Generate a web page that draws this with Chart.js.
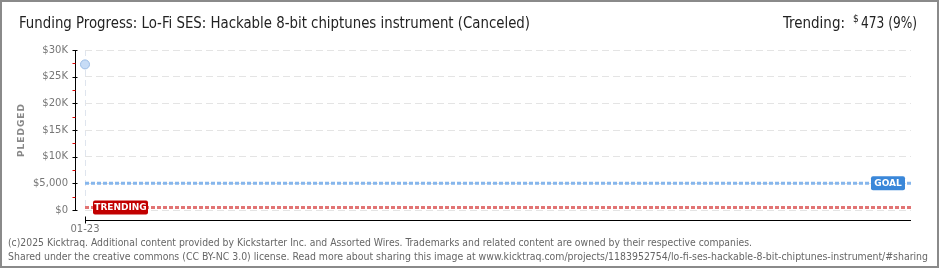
<!DOCTYPE html>
<html>
<head>
<meta charset="utf-8">
<script src="https://cdn.jsdelivr.net/npm/chart.js@4.4.1/dist/chart.umd.min.js"></script>
<style>
  html, body { margin: 0; padding: 0; background: #fff; }
  canvas { display: block; }
</style>
</head>
<body>
<canvas id="fundingChart" width="940" height="270"></canvas>
<script>
// chart values
const dayLabels = ["01-23"];
const pledgedDays = [0];
const pledgedValues = [27300];
const goalValue = 5000;
const trendingValue = 473;
const trendingPct = 9;
const campaignDays = 30;
const yTicks = [0, 5000, 10000, 15000, 20000, 25000, 30000];

const titleText = "Funding Progress: Lo-Fi SES: Hackable 8-bit chiptunes instrument (Canceled)";
const footerLines = [
  "(c)2025 Kicktraq. Additional content provided by Kickstarter Inc. and Assorted Wires. Trademarks and related content are owned by their respective companies.",
  "Shared under the creative commons (CC BY-NC 3.0) license. Read more about sharing this image at www.kicktraq.com/projects/1183952754/lo-fi-ses-hackable-8-bit-chiptunes-instrument/#sharing"
];

function fmtMoney(v) {
  if (v === 0) return "$0";
  if (v === goalValue) return "$5,000";
  return "$" + v / 1000 + "K";
}

// draw text squeezed/stretched to a given width
function fitText(ctx, text, x, y, w) {
  const m = ctx.measureText(text).width;
  ctx.save();
  ctx.translate(x, y);
  ctx.scale(w / m, 1);
  ctx.fillText(text, 0, 0);
  ctx.restore();
}

function drawTag(ctx, text, x, y, w, h, bg) {
  ctx.fillStyle = bg;
  ctx.beginPath();
  ctx.roundRect(x, y, w, h, 2);
  ctx.fill();
  ctx.fillStyle = "#fff";
  ctx.font = "bold 9px 'DejaVu Sans'";
  ctx.textAlign = "center";
  ctx.textBaseline = "middle";
  ctx.fillText(text, x + w / 2, y + h / 2 + 0.5);
}

const decorations = {
  id: "decorations",
  beforeDraw(chart) {
    const ctx = chart.ctx;
    ctx.save();
    ctx.fillStyle = "#fff";
    ctx.fillRect(0, 0, chart.width, chart.height);
    ctx.restore();
  },
  afterDatasetsDraw(chart) {
    const ctx = chart.ctx;
    const xs = chart.scales.x;
    const ys = chart.scales.y;
    const area = chart.chartArea;
    ctx.save();

    // y axis with offset
    const ax = Math.round(area.left) - 10 + 0.5;
    ctx.strokeStyle = "#000";
    ctx.lineWidth = 1;
    ctx.beginPath();
    ctx.moveTo(ax, ys.getPixelForValue(30000));
    ctx.lineTo(ax, ys.getPixelForValue(0) + 1);
    ctx.stroke();
    yTicks.forEach(v => {
      const py = Math.round(ys.getPixelForValue(v)) + 0.5;
      ctx.strokeStyle = "#000";
      ctx.beginPath();
      ctx.moveTo(ax - 3, py);
      ctx.lineTo(ax + 2, py);
      ctx.stroke();
      if (v < 30000) {
        const my = Math.round(ys.getPixelForValue(v + 2500)) + 0.5;
        ctx.strokeStyle = "#e00000";
        ctx.beginPath();
        ctx.moveTo(ax - 3, my);
        ctx.lineTo(ax, my);
        ctx.stroke();
      }
    });

    // x axis with offset
    const by = Math.round(ys.getPixelForValue(0)) + 10 + 0.5;
    ctx.strokeStyle = "#000";
    ctx.beginPath();
    ctx.moveTo(area.left, by);
    ctx.lineTo(area.right, by);
    ctx.stroke();
    const tx = Math.round(xs.getPixelForValue(0)) + 0.5;
    ctx.beginPath();
    ctx.moveTo(tx, by - 4);
    ctx.lineTo(tx, by + 3);
    ctx.stroke();

    // tags
    drawTag(ctx, "TRENDING", area.left + 8, ys.getPixelForValue(trendingValue) - 7, 55, 14, "#c20000");
    drawTag(ctx, "GOAL", area.right - 40, ys.getPixelForValue(goalValue) - 7, 34, 14, "#3a87d9");

    // PLEDGED label
    ctx.save();
    ctx.translate(22, (area.top + area.bottom) / 2);
    ctx.rotate(-Math.PI / 2);
    ctx.fillStyle = "#888";
    ctx.font = "bold 9px 'DejaVu Sans'";
    ctx.textAlign = "center";
    ctx.textBaseline = "middle";
    ctx.letterSpacing = "1px";
    ctx.fillText("PLEDGED", 0, 0);
    ctx.restore();

    // titles
    ctx.fillStyle = "#222";
    ctx.textBaseline = "alphabetic";
    ctx.textAlign = "left";
    ctx.font = "16px 'DejaVu Sans Condensed'";
    fitText(ctx, titleText, 19, 28, 511);

    const num = trendingValue + " (" + trendingPct + "%)";
    fitText(ctx, num, 861, 28, 56);
    fitText(ctx, "Trending:", 783, 28, 62);
    ctx.font = "10px 'DejaVu Sans Condensed'";
    ctx.fillText("$", 853, 22);

    // footer
    ctx.fillStyle = "#666";
    ctx.font = "10px 'DejaVu Sans Condensed'";
    fitText(ctx, footerLines[0], 8, 246, 744);
    fitText(ctx, footerLines[1], 8, 260, 920);

    // frame
    ctx.strokeStyle = "#8a8a8a";
    ctx.lineWidth = 2;
    ctx.strokeRect(1, 1, 937, 266);
    ctx.restore();
  }
};

new Chart(document.getElementById("fundingChart"), {
  type: "line",
  data: {
    datasets: [
      {
        label: "Pledged",
        data: pledgedDays.map((d, i) => ({ x: d, y: pledgedValues[i] })),
        showLine: false,
        clip: false,
        pointRadius: 4.5,
        pointBackgroundColor: "#c7dcf6",
        pointBorderColor: "#9cbde6",
        pointBorderWidth: 1
      },
      {
        label: "Goal",
        data: [{ x: 0, y: goalValue }, { x: campaignDays, y: goalValue }],
        borderColor: "#86b6ec",
        borderWidth: 3,
        borderDash: [4, 2],
        pointRadius: 0
      },
      {
        label: "Trending",
        data: [{ x: 0, y: trendingValue }, { x: campaignDays, y: trendingValue }],
        borderColor: "#e27474",
        borderWidth: 3,
        borderDash: [4, 2],
        pointRadius: 0
      }
    ]
  },
  options: {
    responsive: false,
    animation: false,
    devicePixelRatio: 1,
    layout: { padding: { top: 50, right: 29, bottom: 0, left: 0 } },
    plugins: {
      legend: { display: false },
      tooltip: { enabled: false }
    },
    scales: {
      x: {
        type: "linear",
        min: 0,
        max: campaignDays,
        afterBuildTicks: (scale) => { scale.ticks = pledgedDays.map(v => ({ value: v })); },
        afterFit: (scale) => { scale.height = 60; },
        ticks: {
          callback: (v) => dayLabels[pledgedDays.indexOf(v)] || "",
          color: "#777",
          font: { family: "DejaVu Sans", size: 10 },
          padding: 13,
          maxRotation: 0
        },
        grid: { color: "#dfe5ee", drawTicks: false },
        border: { display: false, dash: [6, 4] }
      },
      y: {
        min: 0,
        max: 30000,
        afterBuildTicks: (scale) => { scale.ticks = yTicks.map(v => ({ value: v })); },
        afterFit: (scale) => { scale.width = 85; },
        ticks: {
          callback: (v) => fmtMoney(v),
          color: "#777",
          font: { family: "DejaVu Sans", size: 10 },
          padding: 17
        },
        grid: { color: "#e4e4e4", drawTicks: false },
        border: { display: false, dash: [7, 4] }
      }
    }
  },
  plugins: [decorations]
});
</script>
</body>
</html>
